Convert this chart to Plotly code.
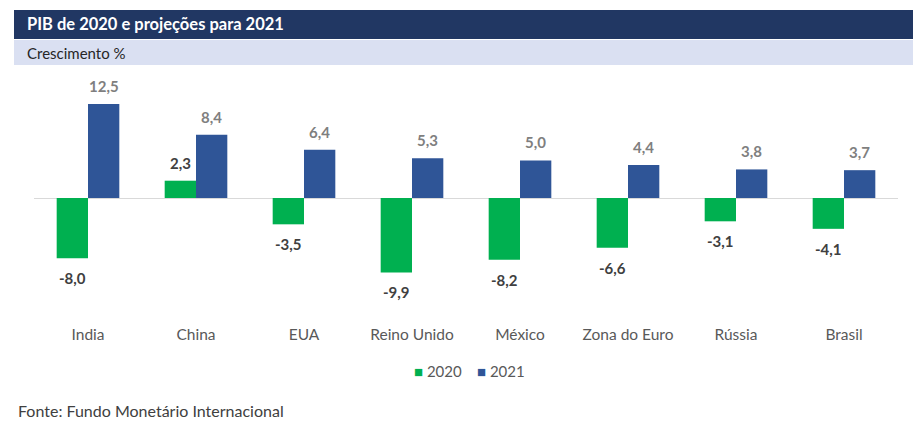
import plotly.graph_objects as go

categories = ["India", "China", "EUA", "Reino Unido", "México", "Zona do Euro", "Rússia", "Brasil"]
values_2020 = [-8.0, 2.3, -3.5, -9.9, -8.2, -6.6, -3.1, -4.1]
values_2021 = [12.5, 8.4, 6.4, 5.3, 5.0, 4.4, 3.8, 3.7]
series_names = ["2020", "2021"]
series_colors = ["#00B050", "#2F5597"]
label_colors = ["#404040", "#7F7F7F"]

# The page body has an 8px margin; work in reference-pixel coords and shift.
OFF = 8
W, H = 921 - OFF, 429 - OFF
L, R, T, B = 34 - OFF, 921 - 898, 75 - OFF, 429 - 320
PW, PH = W - L - R, H - T - B

def px(x):
    return (x - OFF - L) / PW

def py(y):
    return (H - B - (y - OFF)) / PH

def fmt(v):
    return f"{v:.1f}".replace(".", ",")

FONT = "Lato, 'Open Sans', sans-serif"

fig = go.Figure()
for name, vals, color in zip(series_names, [values_2020, values_2021], series_colors):
    fig.add_trace(go.Bar(
        x=categories, y=vals, name=name,
        marker=dict(color=color, line=dict(width=0)),
        showlegend=False, hoverinfo="x+y",
    ))

shapes = [
    dict(type="rect", xref="paper", yref="paper", x0=px(14), x1=px(914), y0=py(39), y1=py(10),
         fillcolor="#213763", line=dict(width=0), layer="below"),
    dict(type="rect", xref="paper", yref="paper", x0=px(14), x1=px(914), y0=py(65), y1=py(40),
         fillcolor="#DAE0F2", line=dict(width=0), layer="below"),
]

annotations = [
    dict(text="<b>PIB de 2020 e projeções para 2021</b>", xref="paper", yref="paper",
         x=px(25), y=py(24.5), xanchor="left", yanchor="middle", showarrow=False,
         font=dict(family=FONT, size=16.5, color="white")),
    dict(text="Crescimento %", xref="paper", yref="paper",
         x=px(25), y=py(53), xanchor="left", yanchor="middle", showarrow=False,
         font=dict(family=FONT, size=15, color="#262626")),
    dict(text="Fonte: Fundo Monetário Internacional", xref="paper", yref="paper",
         x=px(16), y=py(410), xanchor="left", yanchor="middle", showarrow=False,
         font=dict(family=FONT, size=16, color="#404040")),
]

# data labels placed at each bar's value via the data axes
half_bar = 15.5
for si, (vals, lcolor) in enumerate(zip([values_2020, values_2021], label_colors)):
    xs = -half_bar if si == 0 else half_bar
    for cat, v in zip(categories, vals):
        annotations.append(dict(
            text=f"<b>{fmt(v)}</b>", x=cat, y=v, xref="x", yref="y",
            xshift=xs, yshift=18 if v >= 0 else -20,
            xanchor="center", yanchor="middle", showarrow=False,
            font=dict(family=FONT, size=15, color=lcolor)))

# manual legend
legend_x = [412, 475]
for name, color, lx in zip(series_names, series_colors, legend_x):
    annotations.append(dict(
        text=f"<span style='color:{color}'>■</span> {name}", xref="paper", yref="paper",
        x=px(lx), y=py(371), xanchor="left", yanchor="middle", showarrow=False,
        font=dict(family=FONT, size=15, color="#595959")))

zero_y = 198
scale = 94 / 12.5
ytop = (zero_y - 75) / scale
ybot = -(320 - zero_y) / scale

fig.update_layout(
    width=W, height=H,
    margin=dict(l=L, r=R, t=T, b=B, autoexpand=False),
    paper_bgcolor="white", plot_bgcolor="white",
    barmode="group", bargap=0.42, bargroupgap=0,
    separators=",.",
    font=dict(family=FONT, color="#595959"),
    showlegend=False,
    xaxis=dict(showline=False, showgrid=False, ticks="", ticklabelstandoff=3,
               tickfont=dict(family=FONT, size=15.5, color="#595959")),
    yaxis=dict(range=[ybot, ytop], showgrid=False, showticklabels=False, zeroline=True,
               zerolinecolor="#D9D9D9", zerolinewidth=1),
    shapes=shapes, annotations=annotations,
)

fig.write_html("out.html")
